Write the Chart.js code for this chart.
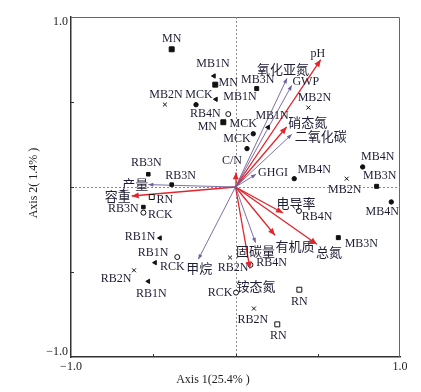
<!DOCTYPE html>
<html>
<head>
<meta charset="utf-8">
<script src="https://cdn.jsdelivr.net/npm/chart.js@4.4.1/dist/chart.umd.min.js"></script>
<style>
    html, body { margin: 0; padding: 0; background: #fff; }
    #graphiqueContainer { width: 421px; height: 392px; position: relative; }
</style>
</head>
<body>
<div id="graphiqueContainer"><canvas id="myChart"></canvas></div>
<script>
// Scores des échantillons (Axis 1, Axis 2)
const MN   = [[-0.388, 0.810], [-0.123, 0.602], [-0.074, 0.381]];
const MB1N = [[-0.131, 0.653], [-0.119, 0.516], [0.198, 0.351]];
const MCK  = [[-0.240, 0.484], [0.108, 0.313], [0.070, 0.226]];
const MB2N = [[-0.429, 0.485], [0.443, 0.467], [0.676, 0.049]];
const MB3N = [[0.129, 0.579], [0.858, 0.004], [0.625, -0.298]];
const MB4N = [[0.773, 0.118], [0.357, 0.049], [0.947, -0.088]];
const RB3N = [[-0.530, 0.075], [-0.388, 0.014], [-0.560, -0.118]];
const RN   = [[-0.509, -0.059], [0.388, -0.604], [0.254, -0.808]];
const RCK  = [[-0.560, -0.151], [-0.354, -0.412], [0.003, -0.621]];
const RB1N = [[-0.459, -0.300], [-0.489, -0.445], [-0.530, -0.555]];
const RB2N = [[-0.617, -0.490], [-0.033, -0.415], [0.112, -0.715]];
const RB4N = [[-0.044, 0.429], [0.386, -0.141], [0.091, -0.458]];

// Variables du sol (flèches rouges)
const soilVars = ['pH', '硝态氮', '容重', '电导率', '有机质', '总氮', '铵态氮', 'C/N'];
const soilX    = [0.518, 0.311, -0.631, 0.289, 0.240, 0.495, 0.088, 0.003];
const soilY    = [0.749, 0.353, -0.053, -0.153, -0.284, -0.337, -0.480, 0.086];

// Gaz / rendement (flèches violettes)
const gasVars = ['氧化亚氮', 'GWP', '二氧化碳', 'GHGI', '产量', '甲烷', '固碳量'];
const gasX    = [0.313, 0.342, 0.342, 0.125, -0.530, -0.226, 0.122];
const gasY    = [0.639, 0.598, 0.310, 0.075, 0.014, -0.425, -0.328];

const axisTicks = [-1, -0.5, 0, 0.5, 1];
const axis1Title = 'Axis 1(25.4% )';
const axis2Title = 'Axis 2( 1.4% )';

// Styles des marqueurs
const markerColor = '#111';
const groups = [
    { name: 'MN',   data: MN,   style: 'rect',     r: 3.5, fill: true,  off: [[0, -10], [13, -2], [-16, 5]] },
    { name: 'MB1N', data: MB1N, style: 'triangle', r: 2.5, fill: true,  off: [[-1, -12], [24, -2], [4, -11]] },
    { name: 'MCK',  data: MCK,  style: 'circle',   r: 2.2, fill: true,  off: [[3, -10], [-10, -10], [-10, -10]] },
    { name: 'MB2N', data: MB2N, style: 'crossRot', r: 2.8, fill: true,  off: [[1, -10], [6, -10], [-2, 11]] },
    { name: 'MB3N', data: MB3N, style: 'rect',     r: 2.8, fill: true,  off: [[1, -9], [3, -10], [23, 6]] },
    { name: 'MB4N', data: MB4N, style: 'circle',   r: 2.2, fill: true,  off: [[15, -10], [20, -9], [-9, 10]] },
    { name: 'RB3N', data: RB3N, style: 'rect',     r: 2.5, fill: true,  off: [[-2, -11], [9, -9], [-20, 2]] },
    { name: 'RN',   data: RN,   style: 'rect',     r: 3.5, fill: false, off: [[13, 3], [0, 12], [1, 11]] },
    { name: 'RCK',  data: RCK,  style: 'circle',   r: 2.5, fill: false, off: [[17, 2], [-5, 10], [-16, 0]] },
    { name: 'RB1N', data: RB1N, style: 'triangle', r: 2.5, fill: true,  off: [[-20, -1], [-2, -10], [3, 12]] },
    { name: 'RB2N', data: RB2N, style: 'crossRot', r: 2.8, fill: true,  off: [[-18, 9], [3, 10], [-1, 11]] },
    { name: 'RB4N', data: RB4N, style: 'circle',   r: 2.5, fill: false, off: [[-23, 0], [18, 6], [21, -2]] }
];

// Décalage des libellés de flèches (px depuis la pointe)
const soilOff = [[-3, -6], [21, -5], [-14, 0], [13, -10], [20, 11], [12, 8], [6, 17], [-4, -12]];
const gasOff  = [[-4, -9], [14, -3], [29, 2], [17, -1], [-13, -1], [1, 9], [0, 8]];

const rouge = '#e3242b';
const violet = '#6f5f9a';
const texteCouleur = '#1d1d35';
const fontLatin = '12px "Liberation Serif", "Noto Sans CJK SC"';
const fontCJK = '13px "Noto Sans CJK SC", "Liberation Serif"';

const datasets = [];

groups.forEach(g => {
    datasets.push({
        label: g.name,
        data: g.data.map(p => ({ x: p[0], y: p[1] })),
        pointStyle: g.style,
        rotation: g.style === 'triangle' ? -90 : 0,
        pointRadius: g.r,
        pointBackgroundColor: g.fill ? markerColor : '#fff',
        pointBorderColor: markerColor,
        pointBorderWidth: 1,
        showLine: false,
        labelOffsets: g.off
    });
});

function ajouterFleches(noms, xs, ys, offs, couleur, largeur, tete) {
    noms.forEach((nom, i) => {
        datasets.push({
            label: nom,
            data: [{ x: 0, y: 0 }, { x: xs[i], y: ys[i] }],
            showLine: true,
            borderColor: couleur,
            borderWidth: largeur,
            pointRadius: 0,
            isArrow: true,
            head: tete,
            labelOffset: offs[i]
        });
    });
}
ajouterFleches(gasVars, gasX, gasY, gasOff, violet, 0.9, [5, 2]);
ajouterFleches(soilVars, soilX, soilY, soilOff, rouge, 1.3, [7, 3]);

function poserTexte(ctx, txt, x, y) {
    ctx.font = /[\u4e00-\u9fff]/.test(txt) ? fontCJK : fontLatin;
    ctx.fillText(txt, x, y);
}

// Cadre, lignes de zéro pointillées et graduations internes
const cadrePlugin = {
    id: 'cadre',
    beforeDatasetsDraw(chart) {
        const { ctx, chartArea: a, scales: { x, y } } = chart;
        ctx.save();
        ctx.strokeStyle = '#666';
        ctx.lineWidth = 1;
        ctx.beginPath();
        ctx.moveTo(a.left, a.top + 0.5);
        ctx.lineTo(a.right - 0.5, a.top + 0.5);
        ctx.lineTo(a.right - 0.5, a.bottom);
        ctx.stroke();

        ctx.strokeStyle = '#8a8a8a';
        ctx.setLineDash([2, 2]);
        const x0 = Math.round(x.getPixelForValue(0)) + 0.5;
        const y0 = Math.round(y.getPixelForValue(0)) + 0.5;
        ctx.beginPath();
        ctx.moveTo(x0, a.top); ctx.lineTo(x0, a.bottom);
        ctx.moveTo(a.left, y0); ctx.lineTo(a.right, y0);
        ctx.stroke();

        ctx.setLineDash([]);
        ctx.strokeStyle = '#333';
        ctx.beginPath();
        [-0.5, 0, 0.5].forEach(v => {
            const px = Math.round(x.getPixelForValue(v)) + 0.5;
            const py = Math.round(y.getPixelForValue(v)) + 0.5;
            ctx.moveTo(px, a.bottom); ctx.lineTo(px, a.bottom - 3);
            ctx.moveTo(a.left, py); ctx.lineTo(a.left + 3, py);
        });
        ctx.stroke();
        ctx.restore();
    }
};

// Pointes de flèches et libellés
const libellesPlugin = {
    id: 'libelles',
    afterDatasetsDraw(chart) {
        const ctx = chart.ctx;
        ctx.save();
        ctx.textAlign = 'center';
        ctx.textBaseline = 'middle';
        chart.data.datasets.forEach((ds, i) => {
            const meta = chart.getDatasetMeta(i);
            if (ds.isArrow) {
                const p0 = meta.data[0], p1 = meta.data[1];
                const ang = Math.atan2(p1.y - p0.y, p1.x - p0.x);
                const [len, w] = ds.head;
                const bx = p1.x - len * Math.cos(ang), by = p1.y - len * Math.sin(ang);
                ctx.fillStyle = ds.borderColor;
                ctx.beginPath();
                ctx.moveTo(p1.x, p1.y);
                ctx.lineTo(bx + w * Math.sin(ang), by - w * Math.cos(ang));
                ctx.lineTo(bx - w * Math.sin(ang), by + w * Math.cos(ang));
                ctx.closePath();
                ctx.fill();
                ctx.fillStyle = texteCouleur;
                poserTexte(ctx, ds.label, p1.x + ds.labelOffset[0], p1.y + ds.labelOffset[1]);
            } else {
                ctx.fillStyle = texteCouleur;
                meta.data.forEach((pt, j) => {
                    const o = ds.labelOffsets[j];
                    poserTexte(ctx, ds.label, pt.x + o[0], pt.y + o[1]);
                });
            }
        });
        ctx.restore();
    },
    afterDraw(chart) {
        const ctx = chart.ctx;
        ctx.save();
        ctx.fillStyle = '#222';
        ctx.font = '12px "Liberation Serif", "Noto Sans CJK SC"';
        ctx.textAlign = 'center';
        ctx.textBaseline = 'middle';
        ctx.fillText(axis1Title, 213, 380);
        ctx.translate(34, 183);
        ctx.rotate(-Math.PI / 2);
        ctx.fillText(axis2Title, 0, 0);
        ctx.restore();
    }
};

function libelleTick(v, axe) {
    if (v === 1) return axe === 'y' ? ['', '1.0'] : '1.0';
    if (v === -1) return axe === 'y' ? ['\u22121.0', ''] : '\u22121.0';
    return '';
}

const ctx = document.getElementById('myChart').getContext('2d');
const chart = new Chart(ctx, {
    type: 'scatter',
    data: { datasets: datasets },
    options: {
        responsive: true,
        maintainAspectRatio: false,
        animation: false,
        events: [],
        layout: { padding: { left: 0, top: 17, right: 21, bottom: 0 } },
        plugins: {
            legend: { display: false },
            tooltip: { enabled: false }
        },
        scales: {
            x: {
                min: -1, max: 1,
                afterBuildTicks: s => { s.ticks = axisTicks.map(v => ({ value: v })); },
                afterFit: s => { s.height = 35; },
                grid: { display: false, drawTicks: false },
                border: { display: true, color: '#333', width: 1.5 },
                ticks: {
                    autoSkip: false,
                    maxRotation: 0,
                    padding: 3,
                    color: '#222',
                    font: { family: '"Liberation Serif"', size: 12 },
                    callback: v => libelleTick(v, 'x')
                }
            },
            y: {
                min: -1, max: 1,
                afterBuildTicks: s => { s.ticks = axisTicks.map(v => ({ value: v })); },
                afterFit: s => { s.width = 71; },
                grid: { display: false, drawTicks: false },
                border: { display: true, color: '#333', width: 1.5 },
                ticks: {
                    autoSkip: false,
                    padding: 3,
                    color: '#222',
                    font: { family: '"Liberation Serif"', size: 12, lineHeight: 0.85 },
                    callback: v => libelleTick(v, 'y')
                }
            }
        }
    },
    plugins: [cadrePlugin, libellesPlugin]
});
</script>
</body>
</html>
